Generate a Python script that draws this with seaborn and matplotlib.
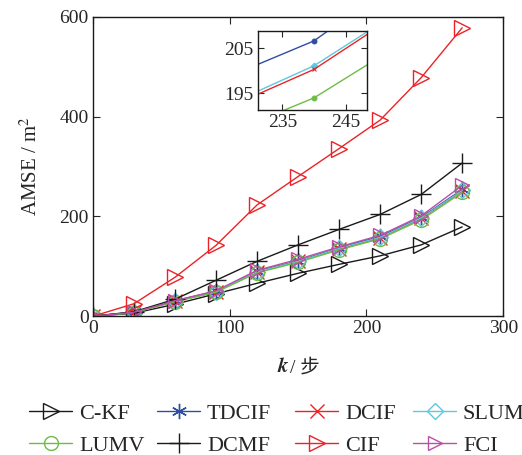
import numpy as np
import pandas as pd
import seaborn as sns
import matplotlib.pyplot as plt

# data
steps = [0, 30, 60, 90, 120, 150, 180, 210, 240, 270]
ckf = [0, 6, 24, 45, 66, 86, 104, 121, 143, 179]
tdcif = [0, 8, 31, 50, 90, 111, 137, 160, 198, 254]
dcif = [0, 8, 30, 49, 89, 110, 135, 157, 196, 251]
slumv = [0, 8, 30, 49, 89, 110, 136, 158, 197, 252]
lumv = [0, 7, 29, 48, 87, 108, 133, 155, 193, 248]
dcmf = [0, 9, 34, 72, 110, 143, 174, 204, 244, 307]
cif = [0, 25, 78, 142, 223, 280, 336, 393, 478, 578]
fci = [0, 8, 31, 51, 92, 114, 139, 162, 201, 262]

# values in the zoomed inset
inset_steps = [210, 240, 270]
inset_tdcif = [189.1, 206.6, 236.6]
inset_slumv = [182.2, 201.1, 227.8]
inset_dcif = [181.8, 200.3, 227.8]
inset_lumv = [176.8, 194.0, 220.0]

names = ['C-KF', 'TDCIF', 'DCIF', 'SLUMV', 'LUMV', 'DCMF', 'CIF', 'FCI']
series = [ckf, tdcif, dcif, slumv, lumv, dcmf, cif, fci]
colors = ['#1a1a1a', '#2e4fa0', '#ec2227', '#5ec8dc', '#6cbd45', '#1a1a1a', '#ec2227', '#b850a8']
markers = ['>', (6, 2, 0), 'x', 'D', 'o', '+', '>', '>']
msizes = [11, 11, 10, 8, 10, 14, 11, 10]
hollow = [True, False, False, True, True, False, True, True]

df = pd.DataFrame({'k': steps * len(names),
                   'amse': sum(series, []),
                   'method': np.repeat(names, len(steps))})

sns.set_style('ticks')
plt.rcParams['font.family'] = ['Liberation Serif', 'Noto Sans CJK SC']
plt.rcParams['mathtext.fontset'] = 'stix'

fig = plt.figure(figsize=(5.22, 4.55), dpi=100)
ax = fig.add_axes([0.178, 0.305, 0.786, 0.658])

for name, c, m, ms, h in zip(names, colors, markers, msizes, hollow):
    sub = df[df['method'] == name]
    sns.lineplot(data=sub, x='k', y='amse', ax=ax, color=c, marker=m,
                 markersize=ms, markerfacecolor='none' if h else c,
                 markeredgecolor=c, markeredgewidth=1.0, linewidth=1.0,
                 label=name, legend=False)

ax.set_xlim(0, 300)
ax.set_ylim(0, 600)
ax.set_xticks([0, 100, 200, 300])
ax.set_yticks([0, 200, 400, 600])
ax.tick_params(direction='in', top=True, right=True, labelsize=14, length=5, width=0.8, pad=3)
for s in ax.spines.values():
    s.set_linewidth(1.0)
    s.set_color('#1a1a1a')
ax.set_xlabel('')
ax.set_ylabel('AMSE / m$^2$', fontsize=15, labelpad=13)

# x label: bold italic k, then the unit in CJK
fig.text(290 / 522, 1 - 368 / 455, '$\\boldsymbol{k}$', fontsize=15,
         ha='right', va='center')
fig.text(290 / 522, 1 - 368 / 455, '/ 步', fontsize=14, ha='left', va='center',
         family=['Liberation Serif', 'Noto Sans CJK SC'])

# inset zoom
ins = fig.add_axes([0.494, 0.758, 0.209, 0.174])
inset_data = [(inset_tdcif, '#2e4fa0', 'o'), (inset_slumv, '#5ec8dc', 'D'),
              (inset_dcif, '#ec2227', 'x'), (inset_lumv, '#6cbd45', 'o')]
for vals, c, m in inset_data:
    sns.lineplot(x=inset_steps, y=vals, ax=ins, color=c, marker=m, markersize=3.5,
                 markeredgecolor=c, linewidth=1.0, legend=False)
ins.set_xlim(231.1, 248.4)
ins.set_ylim(191.3, 208.8)
ins.set_xticks([235, 245])
ins.set_yticks([195, 205])
ins.tick_params(direction='in', top=True, right=True, labelsize=14, length=4, width=0.8, pad=3)
for s in ins.spines.values():
    s.set_linewidth(1.0)
    s.set_color('#1a1a1a')

# legend: four columns of two entries, each column placed on its own
handles, labels = ax.get_legend_handles_labels()
col_x = [29, 157, 295, 413]
for j, x0 in enumerate(col_x):
    idx = [j, j + 4]
    leg = fig.legend([handles[i] for i in idx], [labels[i] for i in idx],
                     loc='upper left', bbox_to_anchor=(x0 / 522, 1 - 403 / 455),
                     ncol=1, frameon=False, fontsize=16, handlelength=1.95,
                     handletextpad=0.3, labelspacing=0.52,
                     borderaxespad=0, borderpad=0)

fig.savefig('out.png', dpi=100)
